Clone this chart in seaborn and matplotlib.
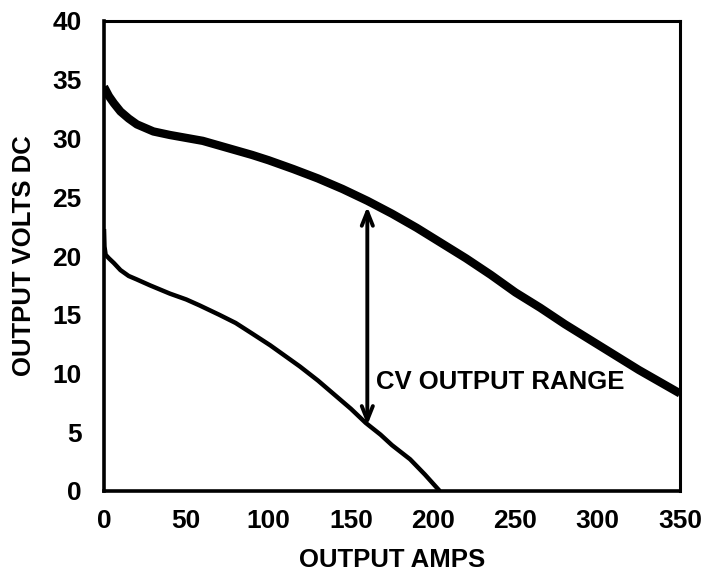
import matplotlib
matplotlib.use("Agg")
import matplotlib.pyplot as plt
import seaborn as sns
import pandas as pd

# Upper (max) CV curve
upper_amps = [0, 3, 6, 10, 15, 20, 25, 30, 40, 50, 60, 65, 70, 80, 90, 100, 115, 130, 145, 160,
              175, 190, 205, 220, 235, 250, 265, 280, 295, 310, 325, 340, 350]
upper_volts = [34.4, 33.6, 33.0, 32.3, 31.7, 31.2, 30.9, 30.6, 30.3, 30.05, 29.8, 29.6, 29.4, 29.0, 28.6, 28.15, 27.4, 26.6, 25.7, 24.7,
               23.6, 22.4, 21.1, 19.8, 18.4, 16.9, 15.6, 14.2, 12.9, 11.6, 10.3, 9.1, 8.3]

# Lower (min) CV curve
lower_amps = [0, 0.3, 1, 3, 6, 10, 15, 20, 28, 40, 50, 58, 70, 80, 90, 101, 110, 119, 130, 140,
              150, 159, 168, 175, 186, 195, 204]
lower_volts = [22.3, 20.8, 20.1, 19.8, 19.4, 18.8, 18.3, 18.0, 17.5, 16.8, 16.3, 15.8, 15.0, 14.3, 13.4, 12.4, 11.5, 10.6, 9.4, 8.2,
               7.0, 5.8, 4.8, 3.9, 2.7, 1.4, 0.0]

arrow_x = 160
arrow_top = 24.2
arrow_bottom = 5.6
range_label = "CV OUTPUT RANGE"

x_ticks = [0, 50, 100, 150, 200, 250, 300, 350]
y_ticks = [0, 5, 10, 15, 20, 25, 30, 35, 40]

sns.set_style("white")
plt.rcParams['font.family'] = ['Liberation Sans', 'DejaVu Sans']
plt.rcParams['font.weight'] = 'bold'
plt.rcParams['text.color'] = 'black'
plt.rcParams['axes.labelcolor'] = 'black'
plt.rcParams['xtick.color'] = 'black'
plt.rcParams['ytick.color'] = 'black'

fig = plt.figure(figsize=(7.01, 5.71), dpi=100)
ax = fig.add_axes([104 / 701, 80 / 571, 576 / 701, 470 / 571])

df_up = pd.DataFrame({"amps": upper_amps, "volts": upper_volts})
df_lo = pd.DataFrame({"amps": lower_amps, "volts": lower_volts})
sns.lineplot(data=df_up, x="amps", y="volts", ax=ax, color="black", lw=6.0, sort=False,
             solid_capstyle="butt", solid_joinstyle="round")
sns.lineplot(data=df_lo, x="amps", y="volts", ax=ax, color="black", lw=3.2, sort=False,
             solid_capstyle="butt", solid_joinstyle="round")

ax.annotate("", xy=(arrow_x, arrow_top), xytext=(arrow_x, arrow_bottom),
            arrowprops=dict(arrowstyle="<->,head_length=1.0,head_width=0.4", lw=2.8, color="black",
                            shrinkA=0, shrinkB=0))
ax.text(arrow_x + 5, 9.3, range_label, fontsize=18.5, fontweight="bold", va="center", ha="left", color="black")

ax.set_xlim(0, 350)
ax.set_ylim(0, 40)
ax.set_xticks(x_ticks)
ax.set_yticks(y_ticks)
ax.tick_params(axis="both", direction="in", length=6, width=2.2, labelsize=19, colors="black")
ax.tick_params(axis="y", pad=16)
ax.tick_params(axis="x", pad=13)
for lab in ax.get_xticklabels() + ax.get_yticklabels():
    lab.set_fontweight("bold")
ax.set_xlabel("OUTPUT AMPS", fontsize=18.5, fontweight="bold", labelpad=11, color="black")
ax.set_ylabel("OUTPUT VOLTS DC", fontsize=18.5, fontweight="bold", labelpad=12, color="black")
for s in ["left", "bottom"]:
    ax.spines[s].set_linewidth(2.6)
for s in ["top", "right"]:
    ax.spines[s].set_linewidth(2.2)
for s in ax.spines.values():
    s.set_color("black")
    s.set_visible(True)

fig.savefig("out.png", dpi=100)
